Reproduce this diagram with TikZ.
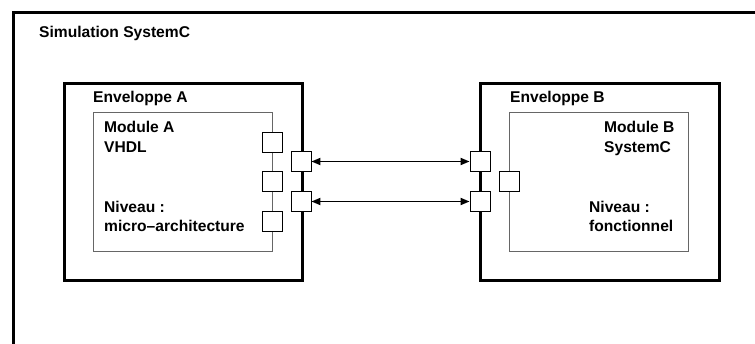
\documentclass[tikz,border=0pt]{standalone}
\usepackage{fontspec}
\setmainfont{Liberation Sans}
\usetikzlibrary{arrows.meta}
\begin{document}
\begin{tikzpicture}[x=1pt,y=-1pt,
  lbl/.style={anchor=base west,inner sep=0pt,font=\fontsize{15.6}{19}\selectfont\bfseries},
  envbox/.style={draw,line width=3pt,anchor=north west,inner sep=0pt},
  modbox/.style={draw=black!60,line width=1pt,anchor=north west,inner sep=0pt},
  port/.style={draw,fill=white,line width=0.9pt,minimum size=20pt,inner sep=0pt},
  link/.style={line width=1.8pt,{Triangle[length=9pt,width=7pt]}-{Triangle[length=9pt,width=7pt]}}
]
\useasboundingbox (0,0) rectangle (755,343);
\clip (0,0) rectangle (755,343);
% outer frame
\node[envbox,minimum width=800pt,minimum height=400pt] (sim) at (12,11) {};
\node[lbl] (simlbl) at (39,37) {Simulation SystemC};
% envelopes
\node[envbox,minimum width=238pt,minimum height=197pt] (envA) at (63,82) {};
\node[envbox,minimum width=239pt,minimum height=197pt] (envB) at (479,82) {};
\node[lbl] (envAlbl) at (93,102) {Enveloppe A};
\node[lbl] (envBlbl) at (510,102) {Enveloppe B};
% modules
\node[modbox,minimum width=179pt,minimum height=139pt] (modA) at (93,112) {};
\node[modbox,minimum width=179pt,minimum height=139pt] (modB) at (509,112) {};
\node[lbl] (mA1) at (104,132) {Module A};
\node[lbl] (mA2) at (104,152) {VHDL};
\node[lbl] (mA3) at (104,212) {Niveau :};
\node[lbl] (mA4) at (104,231) {micro--architecture};
\node[lbl] (mB1) at (604,132) {Module B};
\node[lbl] (mB2) at (604,152) {SystemC};
\node[lbl] (mB3) at (589,212) {Niveau :};
\node[lbl] (mB4) at (589,231) {fonctionnel};
% module ports
\node[port] (pm1) at (272,142) {};
\node[port] (pm2) at (272,181.5) {};
\node[port] (pm3) at (272,221) {};
\node[port] (pmB) at (509,181.5) {};
% envelope ports
\node[port] (pa1) at (301,161.5) {};
\node[port] (pa2) at (301,201.5) {};
\node[port] (pb1) at (480,161.5) {};
\node[port] (pb2) at (480,201.5) {};
% links
\draw[link] (pa1.east) -- (pb1.west);
\draw[link] (pa2.east) -- (pb2.west);
\end{tikzpicture}
\end{document}
